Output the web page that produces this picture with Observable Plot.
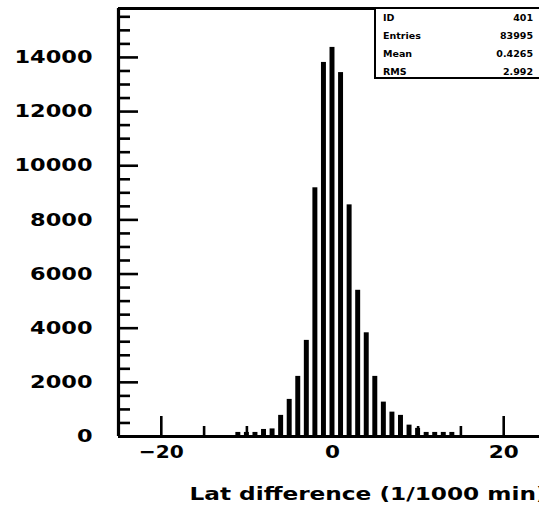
<!DOCTYPE html>
<html>
<head>
<meta charset="utf-8">
<script src="https://cdn.jsdelivr.net/npm/d3@7"></script>
<script src="https://cdn.jsdelivr.net/npm/@observablehq/plot@0.6"></script>
<style>
  html, body { margin: 0; padding: 0; background: #fff; overflow: hidden; width: 539px; height: 508px; }
  #chart { position: relative; width: 546px; height: 508px; }
  #chart svg { max-width: none; display: block; }
  #stats {
    position: absolute; left: 374px; top: 6.5px; width: 172px; height: 72px;
    border: 2.5px solid #000; box-sizing: border-box; background: #fff;
    font: bold 9.5px "DejaVu Sans", sans-serif; color: #000;
    padding: 2px 11px 0 7px;
  }
  #stats .row { display: flex; justify-content: space-between; height: 18px; line-height: 13px; }
</style>
</head>
<body>
<div id="chart"></div>
<script>
// Histogram of latitude differences, one bin per unit (1/1000 min)
const binCenters = [-11, -10, -9, -8, -7, -6, -5, -4, -3, -2, -1, 0, 1, 2, 3, 4, 5, 6, 7, 8, 9, 10, 11, 12, 13, 14];
const binCounts  = [150, 150, 150, 260, 280, 780, 1370, 2220, 3550, 9185, 13815, 14370, 13440, 8555, 5400, 3830, 2220, 1270, 900, 780, 420, 300, 150, 150, 150, 150];

// Axis ticks
const xMajorTicks = [-20, 0, 20];
const xMinorTicks = [-15, -10, -5, 5, 10, 15];
const yMajorTicks = [0, 2000, 4000, 6000, 8000, 10000, 12000, 14000];
const yMinorTicks = [500, 1000, 1500, 2500, 3000, 3500, 4500, 5000, 5500, 6500, 7000, 7500,
                     8500, 9000, 9500, 10500, 11000, 11500, 12500, 13000, 13500, 14500, 15000, 15500];

const xTitle = "Lat difference (1/1000 min)";
const histId = 401;

const bins = binCenters.map((x, i) => ({x, n: binCounts[i]}));
// vertical range leaves 10% headroom above the tallest bin
const yMax = 1.1 * d3.max(binCounts);

const font = '"DejaVu Sans", sans-serif';
const fmtX = d => d < 0 ? "\u2212" + (-d) : String(d);

const plot = Plot.plot({
  width: 546,
  height: 508,
  marginLeft: 118,
  marginRight: 0,
  marginTop: 8,
  marginBottom: 72,
  style: {fontFamily: font, fontSize: "18px", fontWeight: "bold", background: "#fff", color: "#000"},
  x: {domain: [-25, 25]},
  y: {domain: [0, yMax]},
  marks: [
    Plot.rectY(bins, {x1: d => d.x - 0.5, x2: d => d.x + 0.5, y: "n", fill: "#000", insetLeft: 1.8, insetRight: 1.8}),
    // inward-pointing tick marks
    Plot.axisX({ticks: xMajorTicks, tickSize: -20, strokeWidth: 2.6, text: null, label: null}),
    Plot.axisX({ticks: xMinorTicks, tickSize: -10, strokeWidth: 2.6, text: null, label: null}),
    Plot.axisY({ticks: yMajorTicks, tickSize: -20, strokeWidth: 2.6, text: null, label: null}),
    Plot.axisY({ticks: yMinorTicks, tickSize: -12, strokeWidth: 2.6, text: null, label: null}),
    // tick labels
    Plot.axisX({ticks: xMajorTicks, tickSize: 0, tickPadding: 9, tickFormat: fmtX, label: null, fontSize: 18, fontWeight: "bold"}),
    Plot.axisY({ticks: yMajorTicks, tickSize: 0, tickPadding: 26, tickFormat: d => String(d), label: null, fontSize: 18, fontWeight: "bold"}),
    // frame lines
    Plot.ruleX([-25], {strokeWidth: 3.2}),
    Plot.ruleY([0], {strokeWidth: 3}),
    Plot.ruleY([yMax], {strokeWidth: 3}),
    Plot.text([xTitle], {text: d => d, frameAnchor: "bottom-right", textAnchor: "end", lineAnchor: "middle", dy: 58, fontSize: 18, fontWeight: "bold"})
  ]
});
plot.style.maxWidth = "none";

// stretch the labels horizontally to the wide terminal-style lettering
plot.querySelectorAll('g[aria-label="y-axis tick label"] text').forEach(t => {
  t.setAttribute("textLength", t.textContent.length * 15.6);
  t.setAttribute("lengthAdjust", "spacingAndGlyphs");
});
plot.querySelectorAll('g[aria-label="x-axis tick label"] text').forEach(t => {
  t.setAttribute("textLength", t.textContent.length * 15);
  t.setAttribute("lengthAdjust", "spacingAndGlyphs");
});
plot.querySelectorAll('g[aria-label="text"] text').forEach(t => {
  t.setAttribute("textLength", 357);
  t.setAttribute("lengthAdjust", "spacingAndGlyphs");
});

const chart = document.getElementById("chart");
chart.appendChild(plot);

// statistics box
const total = d3.sum(binCounts);
const mean = d3.sum(bins, d => d.x * d.n) / total;
const rms = Math.sqrt(d3.sum(bins, d => d.n * (d.x - mean) ** 2) / total);
const stats = [["ID", String(histId)], ["Entries", String(total)], ["Mean", mean.toFixed(4)], ["RMS", rms.toFixed(3)]];
const box = document.createElement("div");
box.id = "stats";
box.innerHTML = stats.map(([k, v]) => `<div class="row"><span>${k}</span><span>${v}</span></div>`).join("");
chart.appendChild(box);
</script>
</body>
</html>
